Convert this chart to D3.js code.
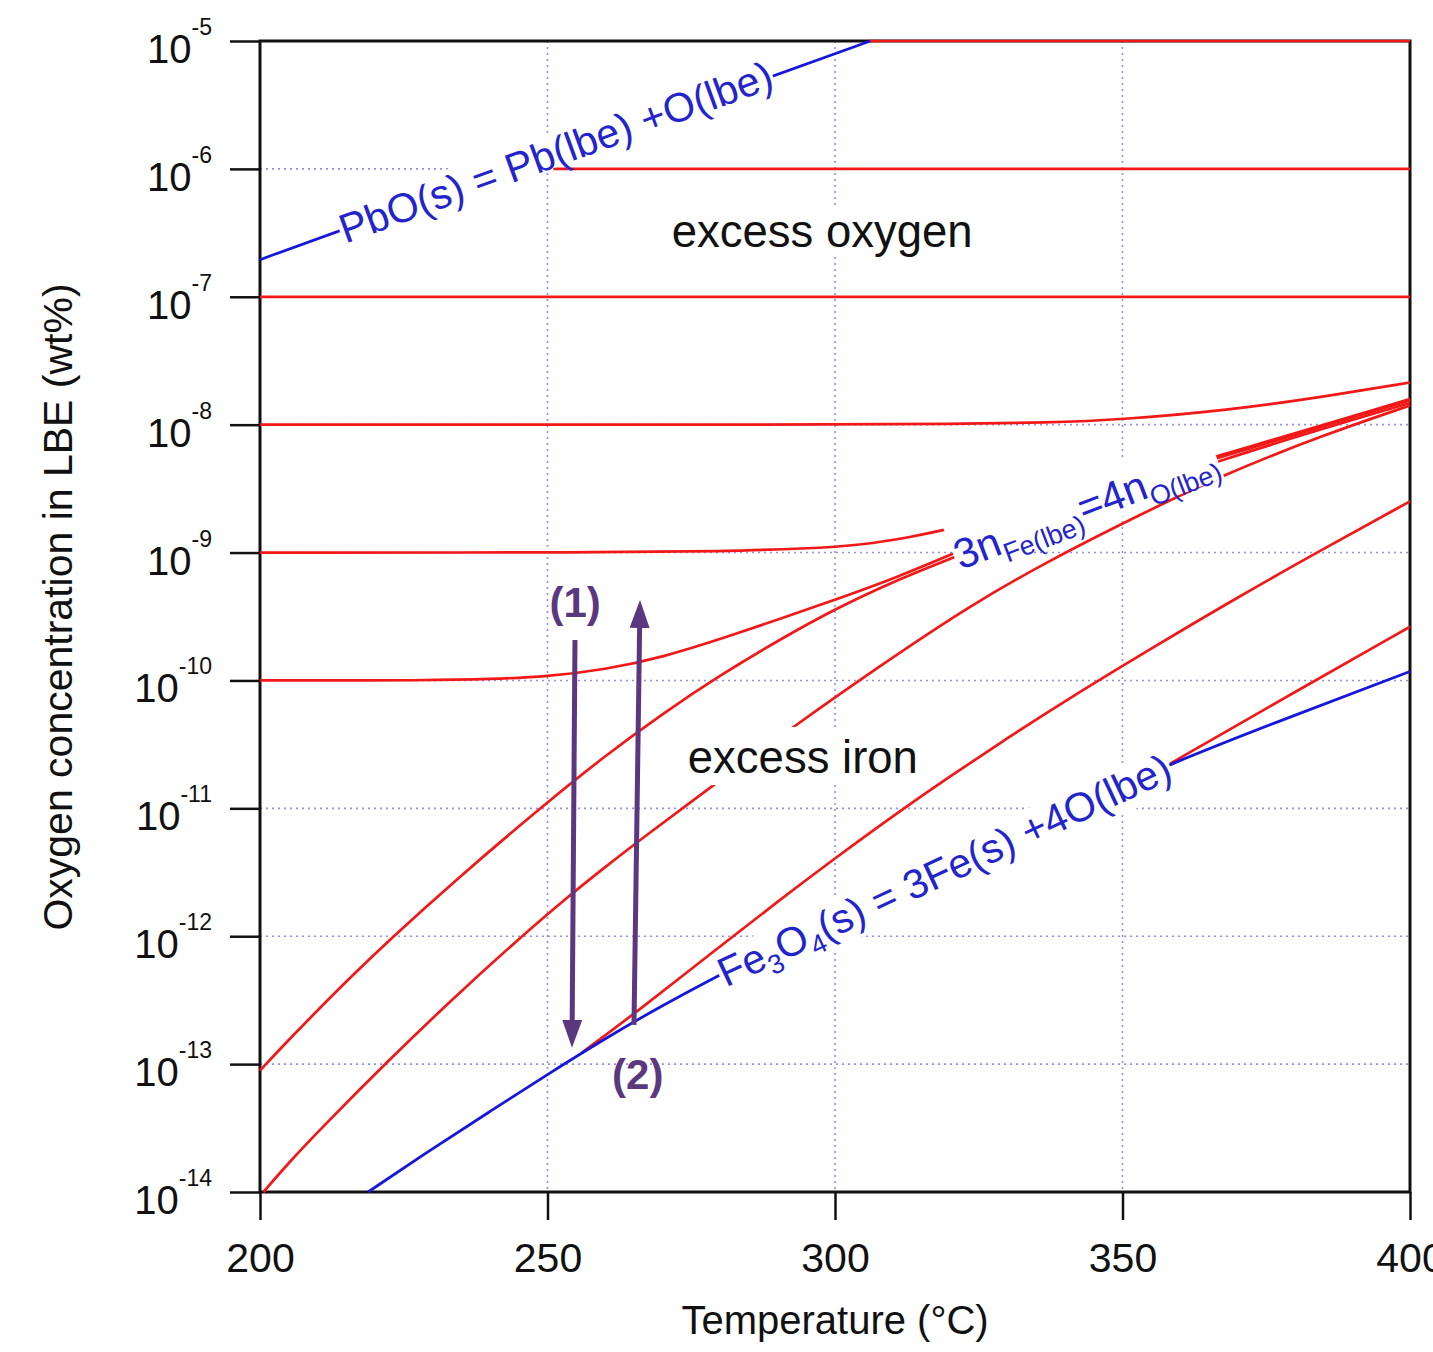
<!DOCTYPE html>
<html>
<head>
<meta charset="utf-8">
<script src="https://cdn.jsdelivr.net/npm/d3@7"></script>
<style>
  body { margin: 0; background: #fff; }
  svg text { font-family: "Liberation Sans", Arial, Helvetica, sans-serif; }
</style>
</head>
<body>
<svg id="chart"></svg>
<script>
// values: [temperature °C, log10 of O concentration in wt%]
const pboLine = [[200, -6.71], [214, -6.48], [250, -5.90], [289, -5.28], [306.1, -5.0]];
const magnetiteLine = [[218.8, -14.0], [230, -13.66], [240, -13.37], [250, -13.08], [260, -12.80],
  [270, -12.54], [280, -12.30], [300, -11.84], [320, -11.41], [340, -11.02], [358.3, -10.65],
  [380, -10.27], [400, -9.93]];

const curve5 = [[306.1, -5.0], [400, -5.0]];
const curve6 = [[251, -6.0], [400, -6.0]];
const curve7 = [[200, -7.0], [400, -7.0]];
const curve8 = [[200, -8.0], [300, -8.0], [320, -7.995], [337, -7.985], [350, -7.96], [369, -7.885],
  [386.6, -7.77], [400, -7.67]];
const curve9 = [[200, -9.0], [260, -9.0], [280, -8.99], [295, -8.97], [305, -8.94], [313, -8.88],
  [319.5, -8.82], [340, -8.60], [367, -8.24], [400, -7.80]];
const curve10 = [[200, -10.0], [230, -10.0], [240, -9.99], [250, -9.97], [260, -9.915], [270, -9.82],
  [282, -9.65], [300, -9.37], [311, -9.19], [321, -9.0], [340, -8.64], [367, -8.25], [400, -7.81]];
const curve13 = [[200, -13.05], [205, -12.81], [210, -12.58], [216, -12.31], [222, -12.05], [234, -11.56],
  [250, -10.95], [260, -10.59], [270, -10.26], [280, -9.96], [290, -9.69], [300, -9.44], [311, -9.21],
  [321, -9.03], [340, -8.70], [367, -8.27], [400, -7.83]];
const curve14 = [[200.6, -14.0], [205, -13.77], [210.7, -13.5], [221.7, -13.0], [233, -12.51], [245.5, -12.0],
  [253.6, -11.69], [260, -11.46], [266.6, -11.23], [279.7, -10.79], [291.9, -10.39], [308, -9.88],
  [324, -9.40], [337, -9.07], [349.6, -8.78], [367, -8.40], [385, -8.08], [400, -7.85]];
const curveFromFe256 = [[256, -12.91], [265, -12.61], [280, -12.08], [290, -11.73], [300, -11.39],
  [311, -11.03], [320, -10.75], [330, -10.45], [340, -10.16], [355, -9.75], [370, -9.35], [385, -8.97],
  [400, -8.60]];
const curveFromFe358 = [[358.3, -10.65], [380, -10.09], [400, -9.58]];
const redCurves = [curve5, curve6, curve7, curve8, curve9, curve10, curve13, curve14, curveFromFe256, curveFromFe358];

// arrows (1) and (2): start, tip, label position
const arrows = [
  { from: [254.78, -9.683], to: [254.26, -12.873], label: "(1)", at: [254.8, -9.39] },
  { from: [265.04, -12.693], to: [266.09, -9.371], label: "(2)", at: [265.7, -13.08] }
];

const xTicks = [200, 250, 300, 350, 400];
const yExponents = [-5, -6, -7, -8, -9, -10, -11, -12, -13, -14];

const width = 1433, height = 1352;
const red = "#f21818", blue = "#1616dc", blueText = "#2424cc", purple = "#5b3780";

const svg = d3.select("#chart").attr("width", width).attr("height", height);

const x = d3.scaleLinear().domain([200, 400]).range([260, 1410]);
const y = d3.scaleLog().domain([1e-14, 1e-5]).range([1192, 41]);
const px = d => x(d[0]);
const py = d => y(Math.pow(10, d[1]));

const [x0, x1] = x.range();
const [y0, y1] = y.range();

// clip a little wider than the frame so lines lying on the border stay visible
svg.append("clipPath").attr("id", "plot")
  .append("rect").attr("x", x0 - 2).attr("y", y1 - 2).attr("width", x1 - x0 + 4).attr("height", y0 - y1 + 4);

// dotted grid
const grid = svg.append("g")
  .attr("stroke", "#8f8ff0").attr("stroke-width", 1.6).attr("stroke-dasharray", "2,4");
grid.selectAll(".gh").data(yExponents.slice(1, -1)).join("line")
  .attr("x1", x0).attr("x2", x1)
  .attr("y1", e => y(Math.pow(10, e))).attr("y2", e => y(Math.pow(10, e)));
grid.selectAll(".gv").data(xTicks.slice(1, -1)).join("line")
  .attr("y1", y1).attr("y2", y0)
  .attr("x1", d => x(d)).attr("x2", d => x(d));

// frame
svg.append("rect")
  .attr("x", x0).attr("y", y1).attr("width", x1 - x0).attr("height", y0 - y1)
  .attr("fill", "none").attr("stroke", "#111").attr("stroke-width", 3);

const line = d3.line().x(px).y(py).curve(d3.curveBasis);
const plot = svg.append("g").attr("clip-path", "url(#plot)").attr("fill", "none");

plot.selectAll(".red").data(redCurves).join("path")
  .attr("d", line).attr("stroke", red).attr("stroke-width", 2.7);
plot.selectAll(".blue").data([pboLine, magnetiteLine]).join("path")
  .attr("d", line).attr("stroke", blue).attr("stroke-width", 2.8);

// labels sitting on a white box
function boxedLabel(pt, angle, size, color, build, pad) {
  const g = svg.append("g")
    .attr("transform", `translate(${px(pt)},${py(pt)}) rotate(${angle})`);
  const txt = g.append("text").attr("fill", color).attr("font-size", size).attr("dy", "0.35em");
  build(txt);
  const b = txt.node().getBBox();
  g.insert("rect", "text")
    .attr("x", b.x - pad[0]).attr("y", b.y + pad[1])
    .attr("width", b.width + 2 * pad[0]).attr("height", b.height - pad[1] - pad[2])
    .attr("fill", "#fff");
  return g;
}

boxedLabel([214, -6.48], -20, 41, blueText, t => t.text("PbO(s) = Pb(lbe) +O(lbe)"), [1, 2, 9]);

boxedLabel([280, -12.30], -25, 41, blueText, t => {
  t.append("tspan").text("Fe");
  t.append("tspan").attr("font-size", 27).attr("dy", 9).text("3");
  t.append("tspan").attr("dy", -9).text("O");
  t.append("tspan").attr("font-size", 27).attr("dy", 9).text("4");
  t.append("tspan").attr("dy", -9).text("(s) = 3Fe(s) +4O(lbe)");
}, [1, 2, 4]);

boxedLabel([320.9, -9.03], -21, 42, blueText, t => {
  t.append("tspan").text("3n");
  t.append("tspan").attr("font-size", 27).attr("dy", 10).text("Fe(lbe)");
  t.append("tspan").attr("dy", -10).text("=4n");
  t.append("tspan").attr("font-size", 27).attr("dy", 10).text("O(lbe)");
}, [1, -8, 8]);

boxedLabel([271.6, -6.49], 0, 45.5, "#111", t => t.text("excess oxygen"), [4, 2, 2]);
boxedLabel([274.4, -10.60], 0, 45.5, "#111", t => t.text("excess iron"), [4, -5, -2]);

// arrows
svg.append("defs").append("marker")
  .attr("id", "head").attr("markerUnits", "userSpaceOnUse")
  .attr("viewBox", "0 0 28 20").attr("refX", 8).attr("refY", 10)
  .attr("markerWidth", 28).attr("markerHeight", 20).attr("orient", "auto")
  .append("path").attr("d", "M0,0L28,10L0,20Z").attr("fill", purple);

arrows.forEach(a => {
  const sx = px(a.from), sy = py(a.from), tx = px(a.to), ty = py(a.to);
  const len = Math.hypot(tx - sx, ty - sy);
  const k = (len - 20) / len;
  svg.append("line")
    .attr("x1", sx).attr("y1", sy)
    .attr("x2", sx + (tx - sx) * k).attr("y2", sy + (ty - sy) * k)
    .attr("stroke", purple).attr("stroke-width", 5)
    .attr("marker-end", "url(#head)");
  svg.append("text")
    .attr("x", px(a.at)).attr("y", py(a.at)).attr("dy", "0.35em")
    .attr("text-anchor", "middle").attr("font-size", 42).attr("font-weight", "bold")
    .attr("fill", purple).text(a.label);
});

// axes
svg.append("g")
  .attr("transform", `translate(0,${y0})`)
  .call(d3.axisBottom(x).tickValues(xTicks).tickSize(28).tickPadding(23).tickFormat(d3.format("d")))
  .call(g => g.select(".domain").remove())
  .call(g => g.selectAll("line").attr("stroke", "#111").attr("stroke-width", 2.5))
  .call(g => g.selectAll("text").attr("font-size", 41).attr("fill", "#111")
    .attr("font-family", "'Liberation Sans', Arial, sans-serif"));

svg.append("g")
  .attr("transform", `translate(${x0},0)`)
  .call(d3.axisLeft(y).tickValues(yExponents.map(e => Math.pow(10, e))).tickSize(30).tickFormat(""))
  .call(g => g.select(".domain").remove())
  .call(g => g.selectAll("line").attr("stroke", "#111").attr("stroke-width", 2.5));

const yLabels = svg.append("g").selectAll("text").data(yExponents).join("text")
  .attr("x", x0 - 48).attr("y", e => y(Math.pow(10, e)) + 22)
  .attr("text-anchor", "end").attr("font-size", 40).attr("fill", "#111");
yLabels.append("tspan").text("10");
yLabels.append("tspan").attr("font-size", 23).attr("dy", -28).text(e => String(e));

svg.append("text")
  .attr("x", x(300)).attr("y", 1334).attr("text-anchor", "middle")
  .attr("font-size", 40).attr("fill", "#111").text("Temperature (°C)");

svg.append("text")
  .attr("transform", "translate(72,607) rotate(-90)")
  .attr("text-anchor", "middle").attr("font-size", 41).attr("fill", "#111")
  .text("Oxygen concentration in LBE (wt%)");
</script>
</body>
</html>
